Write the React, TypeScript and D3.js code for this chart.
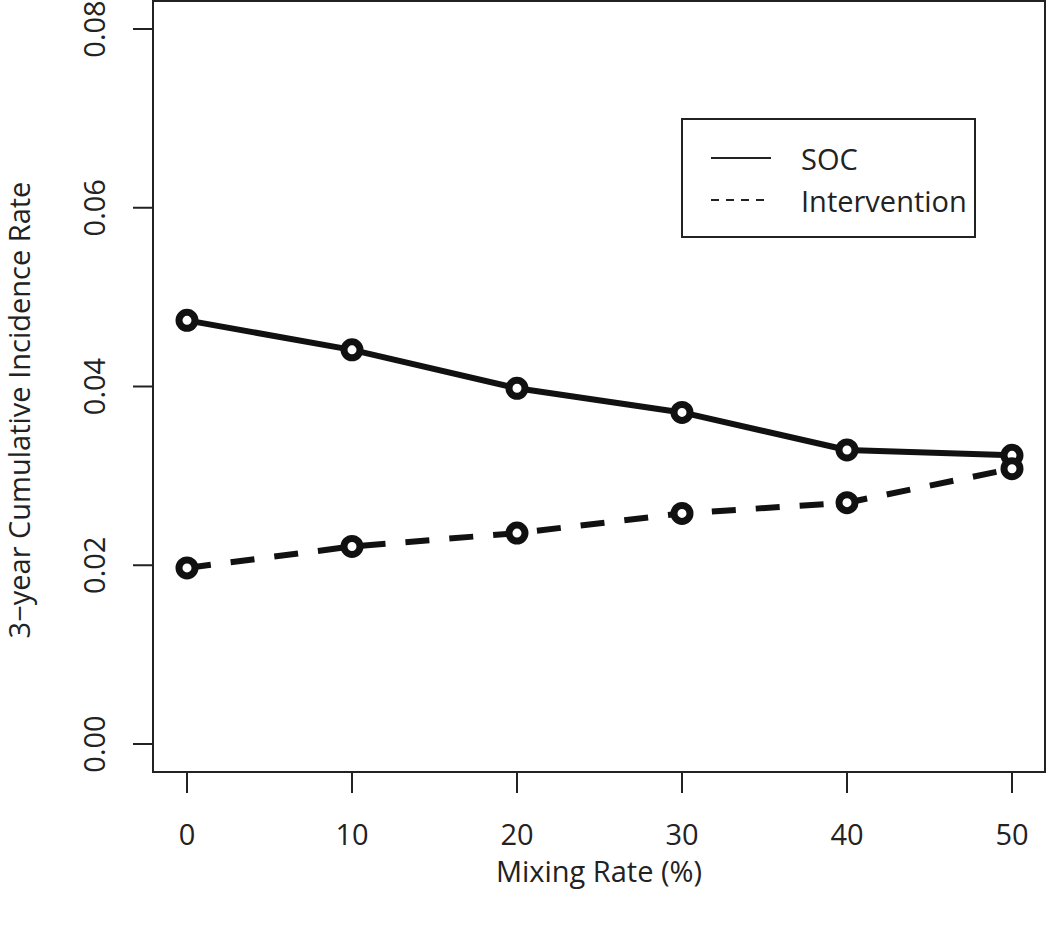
import React from "react";
import * as d3 from "d3";

const mixingRates = [0, 10, 20, 30, 40, 50];
const socValues = [0.0474, 0.0441, 0.0398, 0.0371, 0.0329, 0.0323];
const interventionValues = [0.0197, 0.0221, 0.0236, 0.0258, 0.0270, 0.0308];
const yTicks = [0, 0.02, 0.04, 0.06, 0.08];
const xTicks = [0, 10, 20, 30, 40, 50];
const legendLabels = ["SOC", "Intervention"];

const W = 1050, H = 934;
const box = { left: 153, top: 1, right: 1045, bottom: 772 };
const FONT = "'Open Sans', 'Noto Sans', sans-serif";
const FS = 29;

export default function App() {
  const x = d3.scaleLinear().domain([0, 50]).range([187, 1012]);
  const y = d3.scaleLinear().domain([0, 0.08]).range([744, 29]);
  const line = d3.line<number>().x((_, i) => x(mixingRates[i])).y((v) => y(v));

  const series = [
    { values: socValues, dash: "none" },
    { values: interventionValues, dash: "24 20" },
  ];

  return (
    <svg width={W} height={H} style={{ position: "absolute", left: 0, top: 0, background: "#fff" }}>
      <rect x={0} y={0} width={W} height={H} fill="#fff" />
      <rect x={box.left} y={box.top} width={box.right - box.left} height={box.bottom - box.top} fill="none" stroke="#222" strokeWidth={2} />
      {yTicks.map((t) => (
        <g key={t}>
          <line x1={133} x2={box.left} y1={y(t)} y2={y(t)} stroke="#222" strokeWidth={2} />
          <text transform={`translate(${105},${y(t)}) rotate(-90)`} textAnchor="middle" fontFamily={FONT} fontSize={FS} fill="#222">
            {t.toFixed(2)}
          </text>
        </g>
      ))}
      {xTicks.map((t) => (
        <g key={t}>
          <line x1={x(t)} x2={x(t)} y1={box.bottom} y2={793} stroke="#222" strokeWidth={2} />
          <text x={x(t)} y={845} textAnchor="middle" fontFamily={FONT} fontSize={FS} fill="#222">
            {t}
          </text>
        </g>
      ))}
      <text x={(box.left + box.right) / 2} y={882} textAnchor="middle" fontFamily={FONT} fontSize={FS} fill="#222">
        Mixing Rate (%)
      </text>
      <text transform={`translate(${30},${410}) rotate(-90)`} textAnchor="middle" fontFamily={FONT} fontSize={FS} fill="#222">
        3−year Cumulative Incidence Rate
      </text>
      {series.map((s, si) => (
        <g key={si}>
          <path d={line(s.values) || ""} fill="none" stroke="#111" strokeWidth={6} strokeDasharray={s.dash} strokeLinejoin="round" />
          {s.values.map((v, i) => (
            <circle key={i} cx={x(mixingRates[i])} cy={y(v)} r={8} fill="#fff" stroke="#111" strokeWidth={7} />
          ))}
        </g>
      ))}
      <rect x={682} y={119} width={293} height={118} fill="#fff" stroke="#222" strokeWidth={2} />
      {legendLabels.map((lab, i) => (
        <g key={lab}>
          <line x1={711} x2={771} y1={158 + i * 42} y2={158 + i * 42} stroke="#222" strokeWidth={2} strokeDasharray={i === 0 ? "none" : "8 7"} />
          <text x={801} y={170 + i * 42} fontFamily={FONT} fontSize={FS} fill="#222">
            {lab}
          </text>
        </g>
      ))}
    </svg>
  );
}
